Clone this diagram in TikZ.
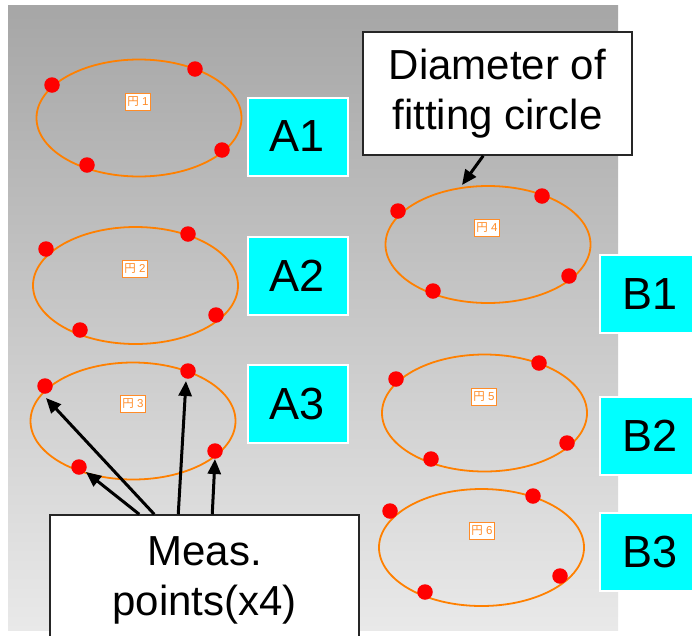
\documentclass[tikz,border=0pt]{standalone}
\usepackage{fontspec}
\setmainfont{Liberation Sans}
\newfontfamily\cjk{Noto Sans CJK JP}
\usetikzlibrary{arrows.meta,shapes.geometric}
\definecolor{fitorange}{RGB}{255,128,0}
\definecolor{lblorange}{RGB}{255,140,40}
\definecolor{dotred}{RGB}{255,0,0}
\definecolor{bgtop}{RGB}{166,166,166}
\definecolor{bgbot}{RGB}{233,233,233}
\definecolor{tagcyan}{RGB}{0,255,255}
\tikzset{
  fitell/.style={ellipse, draw=fitorange, line width=1.8pt, inner sep=0pt, minimum width=205pt, minimum height=117pt},
  measdot/.style={circle, fill=dotred, inner sep=0pt, minimum size=15.5pt},
  lbl/.style={draw=lblorange, fill=white, text=lblorange, line width=1.2pt, inner sep=0pt, minimum width=25pt, minimum height=17pt, font=\fontsize{11.5}{11.5}\selectfont},
  tag/.style={fill=tagcyan, draw=white, line width=2pt, inner sep=0pt, minimum width=100pt, minimum height=78pt, font=\fontsize{45}{45}\selectfont},
  callout/.style={draw=black!85, fill=white, line width=1.5pt, inner sep=0pt, align=center, font=\fontsize{42}{50}\selectfont},
  ptr/.style={-{Triangle[length=15pt,width=13pt]}, line width=3pt, black}
}
\begin{document}
\begin{tikzpicture}[x=1pt,y=-1pt]
\clip (0,0) rectangle (692,635);
\fill[white] (0,0) rectangle (692,635);
\shade[top color=bgtop, bottom color=bgbot] (8,5) rectangle (618,630);

% fitted circles (left column)
\node[fitell] (e1) at (139,118) {};
\node[fitell] (e2) at (135.5,285.5) {};
\node[fitell] (e3) at (133,421) {};
% right column
\node[fitell] (e4) at (488,244.5) {};
\node[fitell] (e5) at (484.5,413) {};
\node[fitell] (e6) at (481.5,547.5) {};

% labels
\node[lbl] (l1) at (138,102) {{\cjk 円} 1};
\node[lbl] (l2) at (135,269) {{\cjk 円} 2};
\node[lbl] (l3) at (133,404) {{\cjk 円} 3};
\node[lbl] (l4) at (487,228) {{\cjk 円} 4};
\node[lbl] (l5) at (484,397) {{\cjk 円} 5};
\node[lbl] (l6) at (482,531) {{\cjk 円} 6};

% measurement points
\node[measdot] (p11) at (52,85) {};
\node[measdot] (p12) at (195,69) {};
\node[measdot] (p13) at (222,150) {};
\node[measdot] (p14) at (87,165) {};
\node[measdot] (p21) at (46,249) {};
\node[measdot] (p22) at (188,234) {};
\node[measdot] (p23) at (216,315) {};
\node[measdot] (p24) at (80,330) {};
\node[measdot] (p31) at (45,386) {};
\node[measdot] (p32) at (188,371) {};
\node[measdot] (p33) at (215,451) {};
\node[measdot] (p34) at (79,467) {};
\node[measdot] (p41) at (398,211) {};
\node[measdot] (p42) at (542,196) {};
\node[measdot] (p43) at (569,276) {};
\node[measdot] (p44) at (433,291) {};
\node[measdot] (p51) at (396,379) {};
\node[measdot] (p52) at (539,363) {};
\node[measdot] (p53) at (567,443) {};
\node[measdot] (p54) at (431,459) {};
\node[measdot] (p61) at (390,511) {};
\node[measdot] (p62) at (533,496) {};
\node[measdot] (p63) at (560,576) {};
\node[measdot] (p64) at (425,592) {};

% cyan tags
\node[tag] (A1) at (297.5,136.5) {A1};
\node[tag] (A2) at (297.5,276) {A2};
\node[tag] (A3) at (297.5,404) {A3};
\node[tag] (B1) at (650,294) {B1};
\node[tag] (B2) at (650,435.5) {B2};
\node[tag] (B3) at (650,552) {B3};

% callouts
\node[callout, minimum width=269pt, minimum height=123pt] (diam) at (497.5,93.5) {\raisebox{-3pt}{Diameter of}\\\raisebox{-3pt}{fitting circle}};
\node[callout, minimum width=309pt, minimum height=130pt] (meas) at (204.5,580) {Meas.\\points(x4)};

% arrow tips
\coordinate (t1) at (86,472);
\coordinate (t2) at (46,398);
\coordinate (t3) at (186,381);
\coordinate (t4) at (215,459);
\coordinate (t5) at (462,185);

\draw[ptr] ([xshift=90pt]meas.north west) -- (t1);
\draw[ptr] ([xshift=105pt]meas.north west) -- (t2);
\draw[ptr] ([xshift=129pt]meas.north west) -- (t3);
\draw[ptr] ([xshift=163pt]meas.north west) -- (t4);
\draw[ptr] ([xshift=121pt]diam.south west) -- (t5);
\end{tikzpicture}
\end{document}
